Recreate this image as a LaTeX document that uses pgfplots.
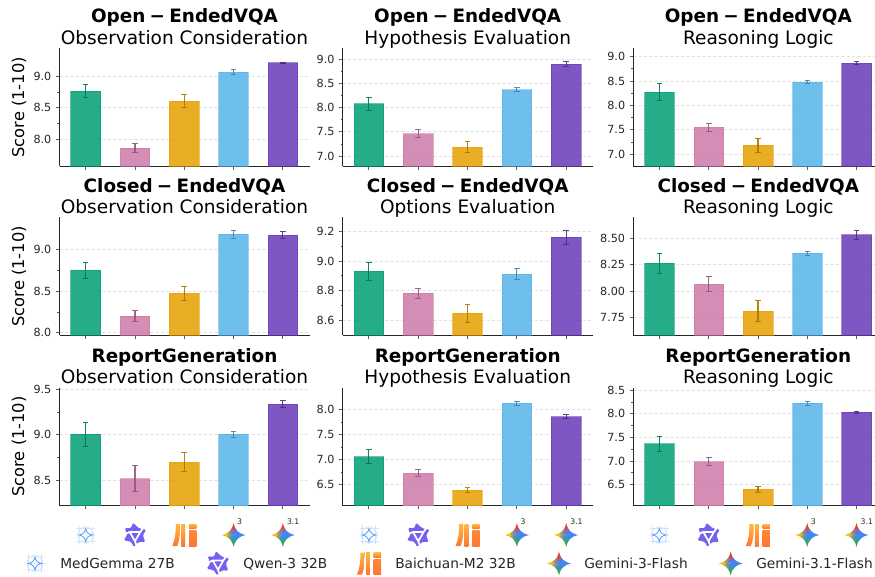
\documentclass[border=0pt]{standalone}
\usepackage{fontspec}
\setmainfont{DejaVu Sans}
\usepackage{pgfplots}
\pgfplotsset{compat=1.18}
\definecolor{cg}{HTML}{009E73}\definecolor{cgd}{HTML}{00735A}
\definecolor{cp}{HTML}{CC79A7}\definecolor{cpd}{HTML}{96557C}
\definecolor{cy}{HTML}{E69F00}\definecolor{cyd}{HTML}{AD7700}
\definecolor{cb}{HTML}{56B4E9}\definecolor{cbd}{HTML}{3A86B4}
\definecolor{cv}{HTML}{673AB7}\definecolor{cvd}{HTML}{4C2A8C}
\definecolor{ink}{HTML}{262626}
\definecolor{gw0}{HTML}{4285F4}\definecolor{gw1}{HTML}{4A80EE}\definecolor{gw2}{HTML}{7A6CCB}
\definecolor{gw3}{HTML}{EA4335}\definecolor{gw4}{HTML}{EA6A28}\definecolor{gw5}{HTML}{F09A10}
\definecolor{gw6}{HTML}{FBBC04}\definecolor{gw7}{HTML}{A8B828}\definecolor{gw8}{HTML}{5CA83F}
\definecolor{gw9}{HTML}{34A853}\definecolor{gw10}{HTML}{1FA88A}\definecolor{gw11}{HTML}{2F90D8}
\definecolor{medl}{HTML}{CFE3FB}\definecolor{medd}{HTML}{5BA2F5}
\definecolor{qw}{HTML}{7461EE}
\definecolor{bcA}{HTML}{FFB83E}\definecolor{bcB}{HTML}{FF7433}
\pgfplotsset{
  mypanel/.style={
    scale only axis, width=187.5pt, height=88.5pt, anchor=south west,
    xmin=-0.53, xmax=4.54, xtick={0,1,2,3,4}, xticklabel=\empty,
    axis x line*=bottom, axis y line*=left,
    axis line style={-,ink,line width=0.75pt},
    tick align=outside, major tick length=2.6pt, minor tick length=1.6pt,
    every tick/.style={ink!75,line width=0.6pt},
    ymajorgrids, major grid style={dash pattern=on 2.5pt off 1.5pt,gray!22,line width=0.6pt},
    tick label style={font=\fontsize{8.4}{9}\selectfont,text=ink},
    /pgf/number format/assume math mode=true,
    scaled y ticks=false,
    ybar, bar shift=0pt, bar width=22.3pt,
  },
  mbar/.style 2 args={fill=#1,draw=#1,fill opacity=0.85,draw opacity=0.6,line width=0.5pt,
    error bars/.cd,y dir=both,y explicit,
    error bar style={#2,line width=0.85pt,opacity=0.9},
    error mark options={rotate=90,#2,mark size=2.1pt,line width=0.7pt,opacity=0.9}},
}
\newcommand\dash{\hspace{3.2pt}−\hspace{3.2pt}}
\newcommand\panel[9]{%
\begin{axis}[mypanel,name=ax,at={(#1*0.75pt,#2*0.75pt)},ymin=#3,ymax=#4,ytick={#5},minor y tick num=#7,
  yticklabel style={/pgf/number format/fixed,/pgf/number format/fixed zerofill,/pgf/number format/precision=#6}]
  #9
\end{axis}
\node[anchor=base,inner sep=0pt,font=\fontsize{13.8}{15}\selectfont\bfseries] at ([yshift=19pt]ax.north) {#8};
}
\newcommand\sub[3]{\node[anchor=base,inner sep=0pt,font=\fontsize{13.9}{15}\selectfont] at (#1+125,#2+118+3.7) {#3};}
\newcommand\vals[2]{\addplot[mbar={#1}{#1d}] coordinates {#2};}
\newcommand\iconmed[2]{\begin{scope}[shift={(#1,#2)}]
  \draw[medl,line width=0.5pt] (0,0) circle (8) (-6.5,-6.5) rectangle (6.5,6.5)
     (-9.5,-6.5)--(9.5,-6.5) (-9.5,6.5)--(9.5,6.5) (-6.5,-9.5)--(-6.5,9.5) (6.5,-9.5)--(6.5,9.5) (-9.5,0)--(9.5,0) (0,-9.5)--(0,9.5);
  \fill[white,fill opacity=0.6] (0,6.5) .. controls (1,2.5) and (2.5,1) .. (6.5,0) .. controls (2.5,-1) and (1,-2.5) .. (0,-6.5) .. controls (-1,-2.5) and (-2.5,-1) .. (-6.5,0) .. controls (-2.5,1) and (-1,2.5) .. (0,6.5);
  \draw[medd,line width=0.65pt] (0,6.5) .. controls (1,2.5) and (2.5,1) .. (6.5,0) .. controls (2.5,-1) and (1,-2.5) .. (0,-6.5) .. controls (-1,-2.5) and (-2.5,-1) .. (-6.5,0) .. controls (-2.5,1) and (-1,2.5) .. (0,6.5);
\end{scope}}
\newcommand\iconqw[2]{\begin{scope}[shift={(#1,#2)}]
  \fill[qw,rounded corners=1pt] (100:12.5)--(60:7.8)--(25:12.5)--(0:7.8)--(-35:12.5)--(-60:7.8)--(-95:12)--(-120:7.8)--(-155:12.5)--(180:7.8)--(145:12.5)--(120:7.8)--cycle;
  \draw[white,line width=1.3pt,line join=round] (-90:6.2)--(30:6.2)--(150:6.2)--cycle (30:6.2)--(8.5,7.5) (150:6.2)--(-9.5,1) (-90:6.2)--(1.5,-10.5);
  \fill[qw] (-90:2.8)--(30:2.8)--(150:2.8)--cycle;
\end{scope}}
\newcommand\iconbc[2]{\begin{scope}[shift={(#1,#2)}]
  \shade[top color=bcA,bottom color=bcB] (-8.5,11) -- (-4.2,11) .. controls (-4.2,2) and (-4.5,-5) .. (-7,-11) -- (-12,-11) .. controls (-9,-4) and (-8.5,3) .. (-8.5,11) -- cycle;
  \shade[top color=bcA,bottom color=bcB] (-3,11) rectangle (0.8,-11);
  \shade[top color=bcA,bottom color=bcB] (4.7,11) rectangle (12,6.3);
  \shade[top color=bcB!70!bcA,bottom color=bcB] (4.7,4.5) rectangle (12,-11);
\end{scope}}
\newcommand\icongem[2]{\begin{scope}[shift={(#1,#2)}]
  \begin{scope}
  \clip (0,12) .. controls (1.8,4.5) and (4.5,1.8) .. (12,0) .. controls (4.5,-1.8) and (1.8,-4.5) .. (0,-12) .. controls (-1.8,-4.5) and (-4.5,-1.8) .. (-12,0) .. controls (-4.5,1.8) and (-1.8,4.5) .. (0,12) -- cycle;
  \foreach \i in {0,...,11}{\fill[gw\i] (0,0)--({\i*30-16}:14.5)--({\i*30+16}:14.5)--cycle;}
  \fill[gw0,opacity=0.4] (0,0) circle (6);
  \fill[gw0,opacity=0.6] (0,0) circle (4);
  \end{scope}
\end{scope}}
\begin{document}
\begin{tikzpicture}[x=0.75pt,y=0.75pt]
\useasboundingbox (0,0) rectangle (875,576);
% Row 1
\panel{59.5}{409.7}{7.564}{9.452}{8,8.5,9}{1}{1}{Open\dash EndedVQA}{%
 \vals{cg}{(0,8.771) +- (0,0.106)}\vals{cp}{(1,7.851) +- (0,0.072)}\vals{cy}{(2,8.606) +- (0,0.104)}\vals{cb}{(3,9.074) +- (0,0.042)}\vals{cv}{(4,9.223) +- (0,0.008)}}
\sub{59.5}{409.7}{Observation Consideration}
\panel{342.7}{409.7}{6.785}{9.235}{7,7.5,8,8.5,9}{1}{1}{Open\dash EndedVQA}{%
 \vals{cg}{(0,8.083) +- (0,0.14)}\vals{cp}{(1,7.46) +- (0,0.08)}\vals{cy}{(2,7.187) +- (0,0.118)}\vals{cb}{(3,8.374) +- (0,0.045)}\vals{cv}{(4,8.91) +- (0,0.05)}}
\sub{342.7}{409.7}{Hypothesis Evaluation}
\panel{633.3}{409.7}{6.754}{9.17}{7,7.5,8,8.5,9}{1}{1}{Open\dash EndedVQA}{%
 \vals{cg}{(0,8.273) +- (0,0.17)}\vals{cp}{(1,7.553) +- (0,0.082)}\vals{cy}{(2,7.184) +- (0,0.15)}\vals{cb}{(3,8.478) +- (0,0.038)}\vals{cv}{(4,8.863) +- (0,0.034)}}
\sub{633.3}{409.7}{Reasoning Logic}
% Row 2
\panel{59.5}{240.6}{7.968}{9.384}{8,8.5,9}{1}{1}{Closed\dash EndedVQA}{%
 \vals{cg}{(0,8.752) +- (0,0.096)}\vals{cp}{(1,8.196) +- (0,0.066)}\vals{cy}{(2,8.476) +- (0,0.084)}\vals{cb}{(3,9.18) +- (0,0.044)}\vals{cv}{(4,9.172) +- (0,0.04)}}
\sub{59.5}{240.6}{Observation Consideration}
\panel{342.7}{240.6}{8.496}{9.295}{8.6,8.8,9,9.2}{1}{1}{Closed\dash EndedVQA}{%
 \vals{cg}{(0,8.93) +- (0,0.06)}\vals{cp}{(1,8.78) +- (0,0.032)}\vals{cy}{(2,8.645) +- (0,0.059)}\vals{cb}{(3,8.912) +- (0,0.04)}\vals{cv}{(4,9.159) +- (0,0.046)}}
\sub{342.7}{240.6}{Options Evaluation}
\panel{633.3}{240.6}{7.582}{8.70}{7.75,8,8.25,8.5}{2}{0}{Closed\dash EndedVQA}{%
 \vals{cg}{(0,8.266) +- (0,0.095)}\vals{cp}{(1,8.07) +- (0,0.07)}\vals{cy}{(2,7.813) +- (0,0.10)}\vals{cb}{(3,8.361) +- (0,0.017)}\vals{cv}{(4,8.535) +- (0,0.044)}}
\sub{633.3}{240.6}{Reasoning Logic}
% Row 3
\panel{59.5}{70.5}{8.222}{9.522}{8.5,9,9.5}{1}{1}{ReportGeneration}{%
 \vals{cg}{(0,9.007) +- (0,0.13)}\vals{cp}{(1,8.518) +- (0,0.146)}\vals{cy}{(2,8.70) +- (0,0.102)}\vals{cb}{(3,9.007) +- (0,0.033)}\vals{cv}{(4,9.337) +- (0,0.04)}}
\sub{59.5}{70.5}{Observation Consideration}
\panel{342.7}{70.5}{6.08}{8.447}{6.5,7,7.5,8}{1}{1}{ReportGeneration}{%
 \vals{cg}{(0,7.06) +- (0,0.14)}\vals{cp}{(1,6.733) +- (0,0.067)}\vals{cy}{(2,6.387) +- (0,0.047)}\vals{cb}{(3,8.133) +- (0,0.037)}\vals{cv}{(4,7.86) +- (0,0.04)}}
\sub{342.7}{70.5}{Hypothesis Evaluation}
\panel{633.3}{70.5}{6.056}{8.556}{6.5,7,7.5,8,8.5}{1}{1}{ReportGeneration}{%
 \vals{cg}{(0,7.366) +- (0,0.162)}\vals{cp}{(1,6.986) +- (0,0.085)}\vals{cy}{(2,6.40) +- (0,0.063)}\vals{cb}{(3,8.218) +- (0,0.046)}\vals{cv}{(4,8.028) +- (0,0.028)}}
\sub{633.3}{70.5}{Reasoning Logic}
% y labels
\foreach \yy in {409.7,240.6,70.5}{
  \node[rotate=90,anchor=center,inner sep=0pt,font=\fontsize{12.2}{14}\selectfont] at (19,\yy+59) {Score (1-10)};
}
% icon rows
\foreach \xx in {85.7,369,659.3}{
  \iconmed{\xx}{41}
  \iconqw{\xx+49.3}{41}
  \iconbc{\xx+98.6}{41}
  \icongem{\xx+147.9}{41}
  \icongem{\xx+197.2}{41}
  \node[font=\fontsize{5.8}{6}\selectfont,text=ink,inner sep=0pt] at (\xx+154,54) {3};
  \node[font=\fontsize{5.8}{6}\selectfont,text=ink,inner sep=0pt] at (\xx+207.5,54) {3.1};
}
% legend
\iconmed{35}{12.5}\iconqw{218}{12.5}\iconbc{369}{12.5}\icongem{559}{12.5}\icongem{730.7}{12.5}
\begin{scope}[every node/.style={anchor=base west,inner sep=0pt,font=\fontsize{10.3}{12}\selectfont,text=ink}]
\node at (60,7.7) {MedGemma 27B};
\node at (243,7.7) {Qwen-3 32B};
\node at (395,7.7) {Baichuan-M2 32B};
\node at (584,7.7) {Gemini-3-Flash};
\node at (756,7.7) {Gemini-3.1-Flash};
\end{scope}
\end{tikzpicture}
\end{document}
